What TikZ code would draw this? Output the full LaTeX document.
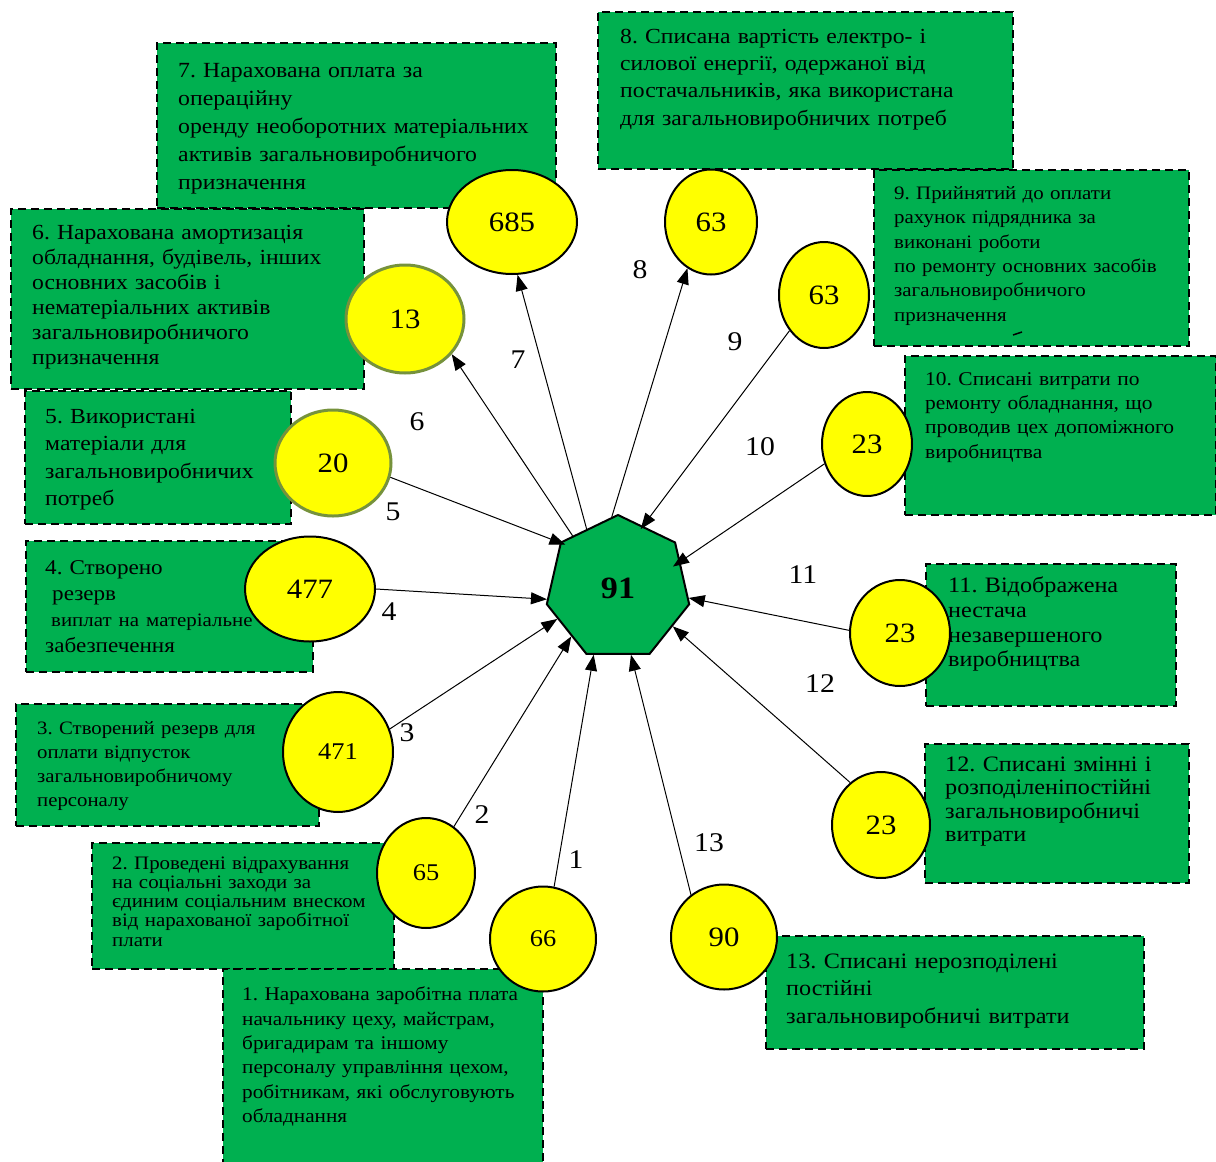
\documentclass[tikz,border=0pt]{standalone}
\usepackage{fontspec}
\setmainfont[FakeStretch=1.1]{Liberation Serif}
\usetikzlibrary{shapes.geometric,arrows.meta}
\definecolor{boxgreen}{HTML}{00B050}
\definecolor{discyellow}{HTML}{FFFF00}
\definecolor{discolive}{HTML}{76923C}
\tikzset{
  stepbox/.style={rectangle, draw=black, fill=boxgreen, line width=2pt,
    dash pattern=on 8pt off 5pt, anchor=north west, inner sep=0pt},
  boxtext/.style={anchor=base west, inner sep=0pt, align=left, text width=440pt},
  disc/.style={ellipse, draw=black, line width=2pt, fill=discyellow, inner sep=0pt,
    font=\fontsize{28}{30}\selectfont},
  olivedisc/.style={disc, draw=discolive, line width=3pt},
  flow/.style={line width=1pt, -{Triangle[length=16pt,width=12pt]}},
  flownum/.style={inner sep=0pt, font=\fontsize{27}{30}\selectfont},
}
\newcommand{\fs}[2]{\fontsize{#1}{#2}\selectfont}
\frenchspacing
\begin{document}
\begin{tikzpicture}[x=1pt,y=-1pt]
\useasboundingbox (0,0) rectangle (1216,1162);

% ---- text boxes ----
\node[stepbox, minimum width=399, minimum height=165] (b7) at (156,42) {};
\node[boxtext, font=\fs{21.6}{28}] (t7) at (178,77) {7. Нарахована оплата за\\операційну\\оренду необоротних матеріальних\\активів загальновиробничого\\призначення};

\node[stepbox, minimum width=415, minimum height=157] (b8) at (597,11) {};
\node[boxtext, font=\fs{21.5}{27.3}] (t8) at (620,43.3) {8. Списана вартість електро- і\\силової енергії, одержаної від\\постачальників, яка використана\\для загальновиробничих потреб};

\node[stepbox, minimum width=315, minimum height=176] (b9) at (873,169) {};
\node[boxtext, font=\fs{19}{24.4}] (t9) at (894,199.3) {9. Прийнятий до оплати\\рахунок підрядника за\\виконані роботи\\по ремонту основних засобів\\загальновиробничого\\призначення};
\draw[line width=1.5pt] (1013,335) -- (1022,332);

\node[stepbox, minimum width=266, minimum height=133] (b5) at (24,390) {};
\node[boxtext, font=\fs{21.5}{27.5}] (t5) at (45,423) {5. Використані\\матеріали для\\загальновиробничих\\потреб};

\node[stepbox, minimum width=353, minimum height=180] (b6) at (10,208) {};
\node[boxtext, font=\fs{21.5}{25}] (t6) at (32,239.3) {6. Нарахована амортизація\\обладнання, будівель, інших\\основних засобів і\\нематеріальних активів\\загальновиробничого\\призначення};

\node[stepbox, minimum width=287, minimum height=131] (b4) at (25,540) {};
\node[boxtext, font=\fs{21}{26.3}] (t4) at (45,574) {4. Створено\\\hspace*{7pt}резерв\\{\fs{19}{26.3}\hspace*{6pt}виплат на матеріальне}\\забезпечення};

\node[stepbox, minimum width=303, minimum height=122] (b3) at (15,703) {};
\node[boxtext, font=\fs{18.9}{24.2}] (t3) at (37,734) {3. Створений резерв для\\оплати відпусток\\загальновиробничому\\персоналу};

\node[stepbox, minimum width=302, minimum height=126] (b2) at (91,842) {};
\node[boxtext, font=\fs{19}{19.2}] (t2) at (112,869.3) {2. Проведені відрахування\\на соціальні заходи за\\єдиним соціальним внеском\\від нарахованої заробітної\\плати};

\node[stepbox, minimum width=320, minimum height=210] (b1) at (222,968) {};
\node[boxtext, font=\fs{19.3}{24.4}] (t1) at (242,1000.7) {1. Нарахована заробітна плата\\начальнику цеху, майстрам,\\бригадирам та іншому\\персоналу управління цехом,\\робітникам, які обслуговують\\обладнання};

\node[stepbox, minimum width=311, minimum height=159] (b10) at (904,355) {};
\node[boxtext, font=\fs{19.5}{24.4}] (t10) at (925,385) {10. Списані витрати по\\ремонту обладнання, що\\проводив цех допоміжного\\виробництва};

\node[stepbox, minimum width=250, minimum height=142] (b11) at (925,563) {};
\node[boxtext, font=\fs{22}{24.7}] (t11) at (948,592.7) {11. Відображена\\нестача\\незавершеного\\виробництва};

\node[stepbox, minimum width=264, minimum height=139] (b12) at (924,743) {};
\node[boxtext, font=\fs{22}{23.6}] (t12) at (945,771) {12. Списані змінні і\\розподіленіпостійні\\загальновиробничі\\витрати};

\node[stepbox, minimum width=378, minimum height=113] (b13) at (765,935) {};
\node[boxtext, font=\fs{22}{27.5}] (t13) at (786,968.3) {13. Списані нерозподілені\\постійні\\загальновиробничі витрати};

% ---- amount discs ----
\node[disc, minimum width=130, minimum height=104] (c685) at (512,222) {685};
\node[disc, minimum width=92, minimum height=105] (c63a) at (711,222) {63};
\node[disc, minimum width=90, minimum height=106] (c63b) at (824,295) {63};
\node[olivedisc, minimum width=118, minimum height=108] (c13) at (405,319) {13};
\node[olivedisc, minimum width=116, minimum height=106] (c20) at (333,463) {20};
\node[disc, minimum width=130, minimum height=105] (c477) at (310,589) {477};
\node[disc, minimum width=110, minimum height=120, font=\fs{24}{26}] (c471) at (338,752) {471};
\node[disc, minimum width=98, minimum height=110, font=\fs{24}{26}] (c65) at (426,873) {65};
\node[disc, minimum width=106, minimum height=105, font=\fs{24}{26}] (c66) at (543,939) {66};
\node[disc, minimum width=106, minimum height=105] (c90) at (724,937) {90};
\node[disc, minimum width=90, minimum height=104] (c23a) at (867,444) {23};
\node[disc, minimum width=100, minimum height=106] (c23b) at (900,633) {23};
\node[disc, minimum width=98, minimum height=106] (c23c) at (881,825) {23};

% ---- central account ----
\node[regular polygon, regular polygon sides=7, minimum size=146, inner sep=0pt,
  draw=black, line width=2pt, fill=boxgreen, font=\bfseries\fs{31}{33}] (hept) at (618,588) {91};

% ---- flows ----
\draw[flow] (c66.78) -- (hept.250.7);
\draw[flow] (c65.59) -- (hept.226.2);
\draw[flow] (c471.24) -- (hept.207.4);
\draw[flow] (c477.0) -- (hept.189.3);
\draw[flow, shorten >=-6pt] (c20.-14) -- (hept.142.1);
\draw[flow] (hept.131) -- (c13.-37.7);
\draw[flow] (hept.118) -- (c685.-84.8);
\draw[flow] (hept.95) -- (c63a.-117);
\draw[flow, shorten >=-4pt] (c63b.-134) -- (hept.68.2);
\draw[flow, shorten >=-9pt] (c23a.-155) -- (hept.23.4);
\draw[flow] (c23b.177) -- (hept.-8.4);
\draw[flow] (c23c.126) -- (hept.-35.5);
\draw[flow] (c90.128) -- (hept.-79.4);

% ---- flow numbers ----
\node[flownum] (n1) at (576,860) {1};
\node[flownum] (n2) at (482,815) {2};
\node[flownum] (n3) at (407,733) {3};
\node[flownum] (n4) at (389,612) {4};
\node[flownum] (n5) at (393,512) {5};
\node[flownum] (n6) at (417,422) {6};
\node[flownum] (n7) at (518,360) {7};
\node[flownum] (n8) at (640,270) {8};
\node[flownum] (n9) at (735,342) {9};
\node[flownum] (n10) at (760,447) {10};
\node[flownum] (n11) at (803,575) {11};
\node[flownum] (n12) at (820,684) {12};
\node[flownum] (n13) at (709,843) {13};
\end{tikzpicture}
\end{document}
